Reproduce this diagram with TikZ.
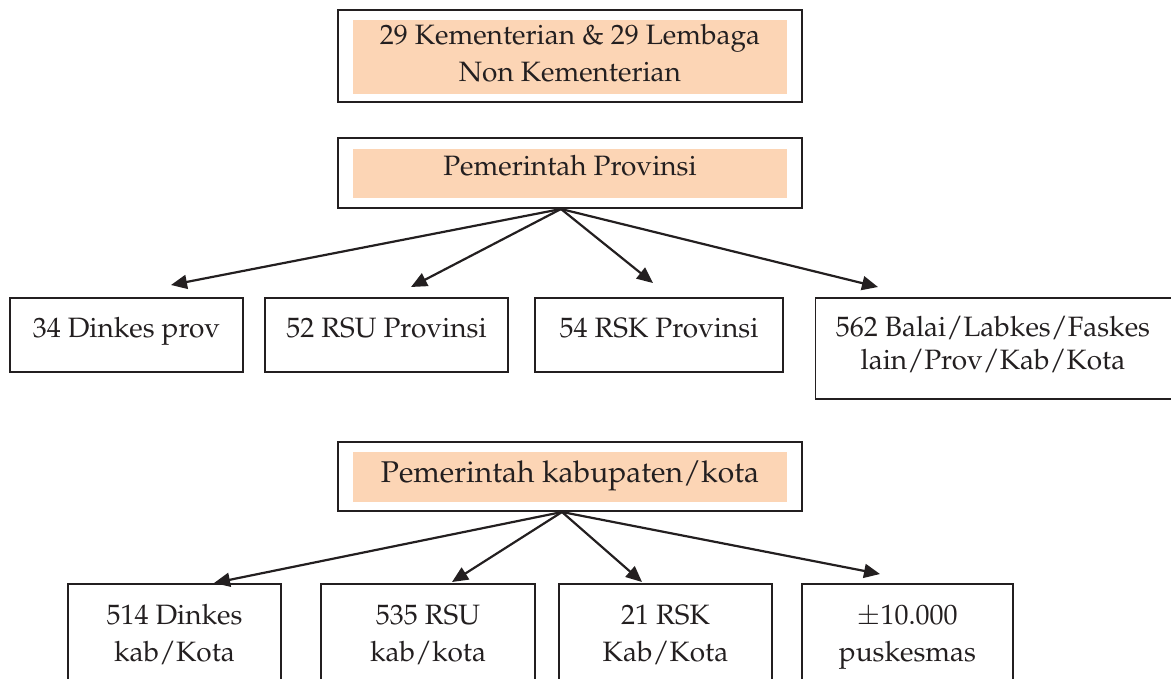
\documentclass[tikz,border=0pt]{standalone}
\usepackage[T1]{fontenc}
\usepackage{mathpazo}
\usetikzlibrary{arrows.meta}
\definecolor{peach}{RGB}{252,213,181}
\definecolor{ink}{RGB}{35,31,32}
\begin{document}
\begin{tikzpicture}[x=0.5pt,y=-0.5pt,
  boxed/.style={draw=ink, line width=0.8pt, inner sep=0pt},
  band/.style={fill=peach, inner sep=0pt},
  lbl/.style={font=\fontsize{14}{18.5}\selectfont, text=ink, align=center, inner sep=0pt, anchor=base},
  lbltight/.style={lbl, font=\fontsize{14}{16.5}\selectfont},
  lblbig/.style={lbl, font=\fontsize{15}{18.5}\selectfont},
  conn/.style={draw=ink, line width=1.1pt, -{Triangle[length=8pt,width=7pt]}}]
\useasboundingbox (0,0) rectangle (1171,679);
\clip (0,0) rectangle (1171,679);

% level 1
\node[boxed, minimum width=232pt, minimum height=46pt] (kem) at (570,56) {};
\node[band, minimum width=217pt, minimum height=37pt] (kemfill) at (570,57) {};
\node[lbl] (kemtxt) at (570,82) {29 Kementerian \& 29 Lembaga\\Non Kementerian};

% level 2
\node[boxed, minimum width=232pt, minimum height=35pt] (prov) at (570,173) {};
\node[band, minimum width=217pt, minimum height=24.5pt] (provfill) at (570,173.5) {};
\node[lbl] (provtxt) at (570,176) {Pemerintah Provinsi};

% row 1 boxes
\node[boxed, minimum width=116.5pt, minimum height=37pt] (r1a) at (126.5,335) {};
\node[lbl] (r1atxt) at (126.5,337) {34 Dinkes prov};
\node[boxed, minimum width=121.5pt, minimum height=37pt] (r1b) at (386.5,335) {};
\node[lbl] (r1btxt) at (386.5,337) {52 RSU Provinsi};
\node[boxed, minimum width=124pt, minimum height=37pt] (r1c) at (659,335) {};
\node[lbl] (r1ctxt) at (659,337) {54 RSK Provinsi};
\node[boxed, minimum width=181pt, minimum height=50.5pt] (r1d) at (996.5,348.5) {};
\node[lbltight] (r1dtxt) at (993,369) {562 Balai/Labkes/Faskes\\lain/Prov/Kab/Kota};

% level 3
\node[boxed, minimum width=232pt, minimum height=34.5pt] (kab) at (570,476.5) {};
\node[band, minimum width=217pt, minimum height=25pt] (kabfill) at (570,477) {};
\node[lblbig] (kabtxt) at (570,482) {Pemerintah kabupaten/kota};

% row 2 boxes
\node[boxed, minimum width=106.5pt, minimum height=60pt] (r2a) at (174.5,644) {};
\node[lbl] (r2atxt) at (174.5,661) {514 Dinkes\\kab/Kota};
\node[boxed, minimum width=107pt, minimum height=60pt] (r2b) at (428,644) {};
\node[lbl] (r2btxt) at (428,661) {535 RSU\\kab/kota};
\node[boxed, minimum width=106.5pt, minimum height=60pt] (r2c) at (665.5,644) {};
\node[lbl] (r2ctxt) at (665.5,661) {21 RSK\\Kab/Kota};
\node[boxed, minimum width=105.5pt, minimum height=60pt] (r2d) at (907.5,644) {};
\node[lbl] (r2dtxt) at (907.5,661) {$\pm$10.000\\puskesmas};

% connectors
\coordinate (o1) at (561,209);
\coordinate (t1a) at (171,285);
\coordinate (t1b) at (411,287);
\coordinate (t1c) at (653,283);
\coordinate (t1d) at (878,287);
\draw[conn] (o1) -- (t1a);
\draw[conn] (o1) -- (t1b);
\draw[conn] (o1) -- (t1c);
\draw[conn] (o1) -- (t1d);

\coordinate (o2) at (562,512);
\coordinate (t2a) at (214,583);
\coordinate (t2b) at (452,582);
\coordinate (t2c) at (642,582);
\coordinate (t2d) at (880,574);
\draw[conn] (o2) -- (t2a);
\draw[conn] (o2) -- (t2b);
\draw[conn] (o2) -- (t2c);
\draw[conn] (o2) -- (t2d);
\end{tikzpicture}
\end{document}
